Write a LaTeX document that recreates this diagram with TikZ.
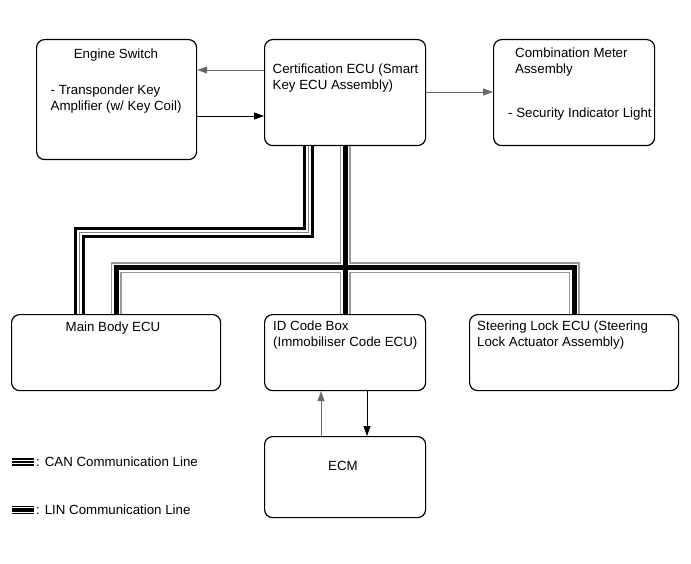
\documentclass[tikz,border=0pt]{standalone}
\usepackage{fontspec}
\setmainfont{Liberation Sans}
\usetikzlibrary{arrows.meta}

\begin{document}
\begin{tikzpicture}[x=1pt, y=-1pt,
    box/.style={draw, line width=1.2pt, rounded corners=8pt, inner sep=0pt, anchor=north west},
    boxtext/.style={inner sep=0pt, align=left, font=\fontsize{13.3}{16}\selectfont},
    sigline/.style={line width=0.8pt, -{Triangle[length=10pt,width=7pt]}},
    canbus/.style={line width=11pt, draw=black, postaction={draw=white, line width=5pt}, postaction={draw=gray, line width=1pt}},
    linbus/.style={line width=11pt, draw=gray!80, postaction={draw=white, line width=8.5pt}, postaction={draw=black, line width=5pt}},
    canmark/.style={line width=7.5pt, draw=black, postaction={draw=white, line width=4.5pt}, postaction={draw=black, line width=1.2pt}},
    linmark/.style={line width=7.5pt, draw=black, postaction={draw=white, line width=5.5pt}, postaction={draw=black, line width=3.6pt}}]

    % Colors for the lines
    \definecolor{linegray}{RGB}{105,105,105}

    \useasboundingbox (0,0) rectangle (691,564);

    % Engine Switch
    \node[box, minimum width=160pt, minimum height=120pt] (enginesw) at (36,39) {};
    \node[boxtext, anchor=base] (engtitle) at (116,58.5) {Engine Switch};
    \node[boxtext, anchor=north west] (engtext) at (50.5,85) {- Transponder Key\\Amplifier (w/ Key Coil)};

    % Certification ECU
    \node[box, minimum width=161pt, minimum height=106pt] (certecu) at (264,39) {};
    \node[boxtext, anchor=north west] (certtext) at (272.5,64) {Certification ECU (Smart\\Key ECU Assembly)};

    % Combination Meter
    \node[box, minimum width=161pt, minimum height=106pt] (combmeter) at (493,39) {};
    \node[boxtext, anchor=north west] (combtitle) at (515,48) {Combination Meter\\Assembly};
    \node[boxtext, anchor=base west] (combtext) at (508,117.5) {- Security Indicator Light};

    % Main Body ECU
    \node[box, minimum width=209pt, minimum height=76pt] (mainbody) at (11,314) {};
    \node[boxtext, anchor=base] (maintext) at (113,331.5) {Main Body ECU};

    % ID Code Box
    \node[box, minimum width=161pt, minimum height=76pt] (idbox) at (264,314) {};
    \node[boxtext, anchor=north west] (idtext) at (273,321) {ID Code Box\\(Immobiliser Code ECU)};

    % Steering Lock ECU
    \node[box, minimum width=209pt, minimum height=76pt] (steerlock) at (469,314) {};
    \node[boxtext, anchor=north west] (steertext) at (477,321) {Steering Lock ECU (Steering\\Lock Actuator Assembly)};

    % ECM
    \node[box, minimum width=161pt, minimum height=81pt] (ecm) at (264,436) {};
    \node[boxtext, anchor=base] (ecmtext) at (343,470.5) {ECM};

    % signal lines
    \draw[sigline, linegray] (certecu.west |- 0,70) -- (enginesw.east |- 0,70);
    \draw[sigline] (enginesw.east |- 0,116) -- (certecu.west |- 0,116);
    \draw[sigline, linegray] (certecu.east |- 0,92) -- (combmeter.west |- 0,92);
    \draw[sigline, linegray] (ecm.north -| 321,0) -- (idbox.south -| 321,0);
    \draw[sigline] (idbox.south -| 367,0) -- (ecm.north -| 367,0);

    % CAN line
    \coordinate (canup) at ([xshift=-37pt]certecu.south);
    \coordinate (candown) at ([xshift=-37pt]mainbody.north);
    \draw[canbus] (canup) -- (canup |- 0,233) -- (candown |- 0,233) -- (candown);

    % LIN line
    \draw[linbus] (certecu.south) -- (idbox.north)
        (mainbody.north) -- (mainbody.north |- 0,268) -- (steerlock.north |- 0,268) -- (steerlock.north);

    % Legend
    \coordinate (cankey) at (12,462);
    \coordinate (linkey) at (12,510);
    \draw[canmark] (cankey) -- ++(22,0);
    \draw[linmark] (linkey) -- ++(22,0);
    \node[boxtext, anchor=base west] (cantext) at (36,466.5) {: CAN Communication Line};
    \node[boxtext, anchor=base west] (lintext) at (36,514.5) {: LIN Communication Line};

\end{tikzpicture}
\end{document}
